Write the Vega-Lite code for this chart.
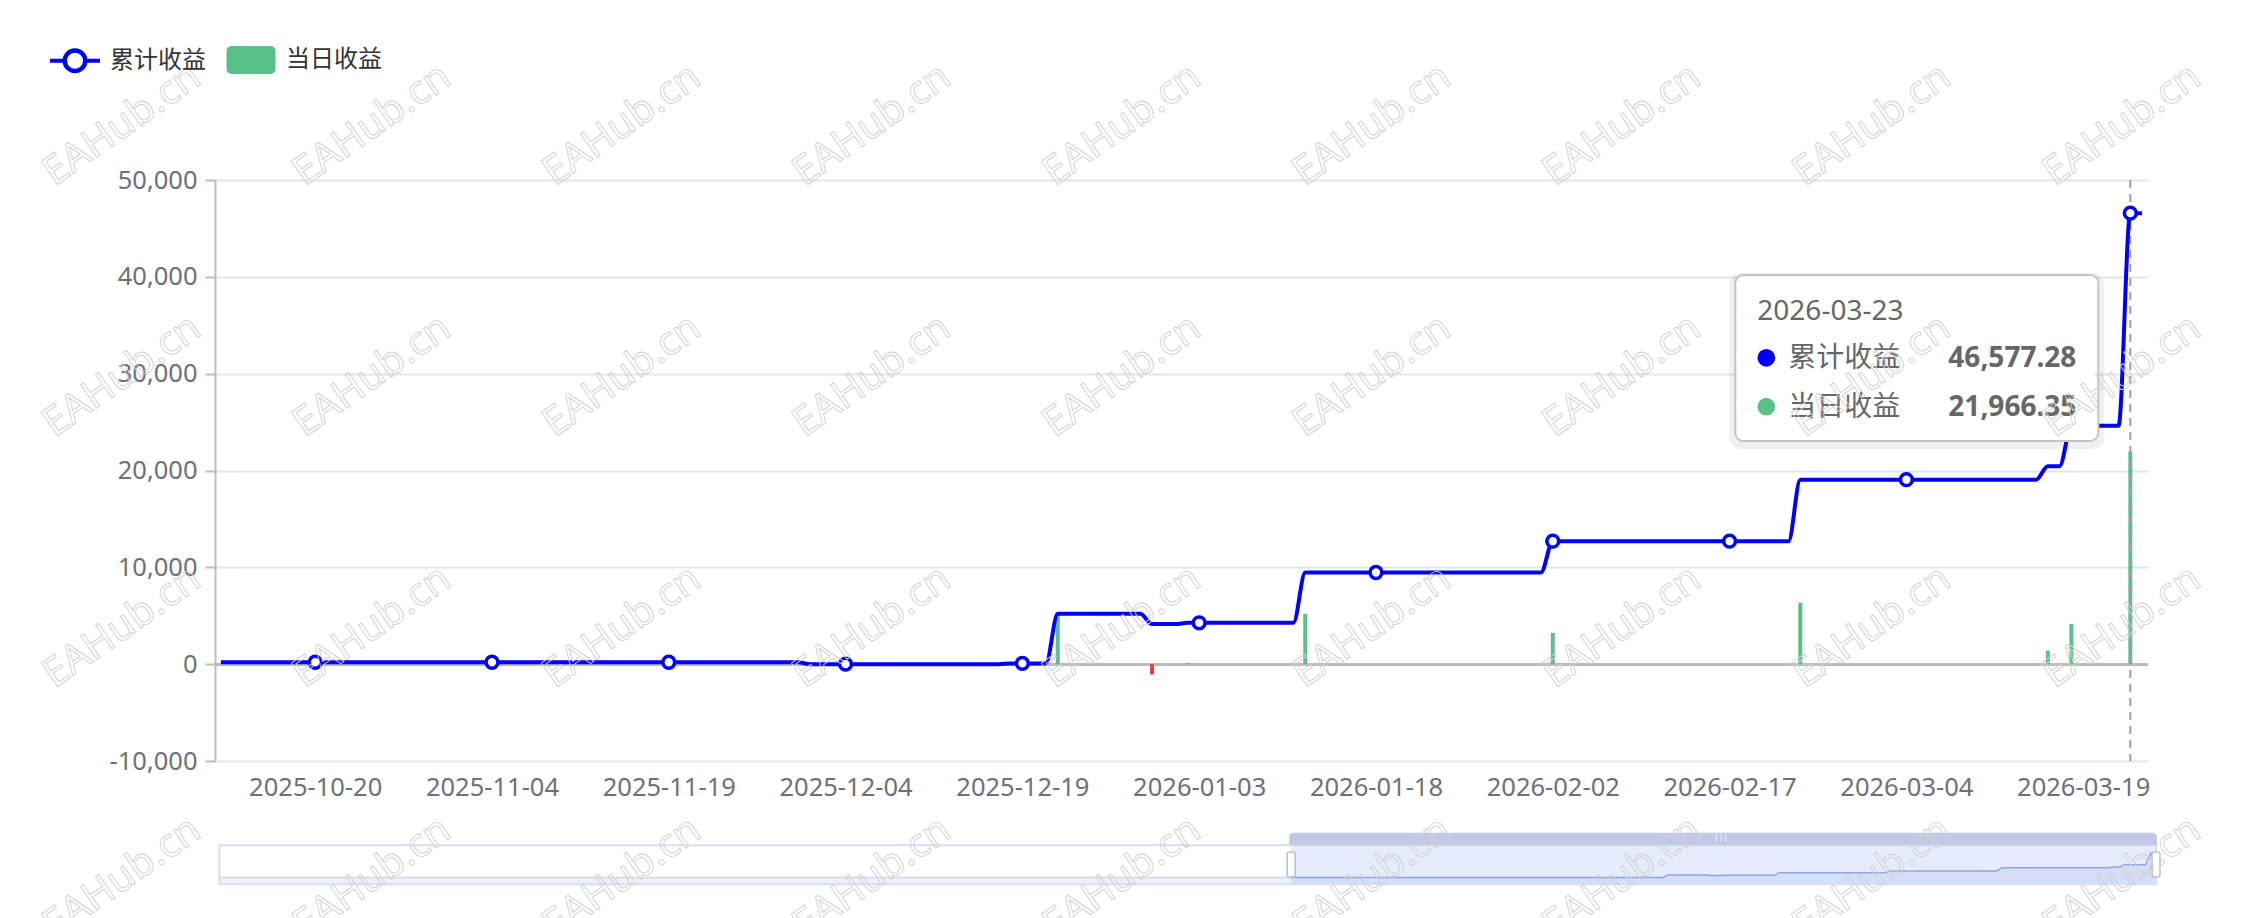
{
  "$schema": "https://vega.github.io/schema/vega-lite/v6.json",
  "width": 1933,
  "height": 581,
  "autosize": {"type": "none"},
  "padding": {"left": 215, "top": 180, "right": 93, "bottom": 157},
  "background": "#ffffff",
  "config": {
    "view": {"stroke": null},
    "font": "Noto Sans, Noto Sans CJK SC, sans-serif",
    "axis": {"labelFont": "Noto Sans, Noto Sans CJK SC, sans-serif", "labelFontSize": 25.5, "labelColor": "#6E7079"}
  },
  "datasets": {
    "daily": [
      {"date":"2025-10-12","cum":200,"daily":0},{"date":"2025-10-13","cum":200,"daily":0},{"date":"2025-10-14","cum":200,"daily":0},{"date":"2025-10-15","cum":200,"daily":0},{"date":"2025-10-16","cum":200,"daily":0},{"date":"2025-10-17","cum":200,"daily":0},{"date":"2025-10-18","cum":200,"daily":0},{"date":"2025-10-19","cum":200,"daily":0},{"date":"2025-10-20","cum":200,"daily":0},{"date":"2025-10-21","cum":200,"daily":0},
      {"date":"2025-10-22","cum":200,"daily":0},{"date":"2025-10-23","cum":200,"daily":0},{"date":"2025-10-24","cum":200,"daily":0},{"date":"2025-10-25","cum":200,"daily":0},{"date":"2025-10-26","cum":200,"daily":0},{"date":"2025-10-27","cum":200,"daily":0},{"date":"2025-10-28","cum":200,"daily":0},{"date":"2025-10-29","cum":200,"daily":0},{"date":"2025-10-30","cum":200,"daily":0},{"date":"2025-10-31","cum":200,"daily":0},
      {"date":"2025-11-01","cum":200,"daily":0},{"date":"2025-11-02","cum":200,"daily":0},{"date":"2025-11-03","cum":200,"daily":0},{"date":"2025-11-04","cum":200,"daily":0},{"date":"2025-11-05","cum":200,"daily":0},{"date":"2025-11-06","cum":200,"daily":0},{"date":"2025-11-07","cum":200,"daily":0},{"date":"2025-11-08","cum":200,"daily":0},{"date":"2025-11-09","cum":200,"daily":0},{"date":"2025-11-10","cum":200,"daily":0},
      {"date":"2025-11-11","cum":200,"daily":0},{"date":"2025-11-12","cum":200,"daily":0},{"date":"2025-11-13","cum":200,"daily":0},{"date":"2025-11-14","cum":200,"daily":0},{"date":"2025-11-15","cum":200,"daily":0},{"date":"2025-11-16","cum":200,"daily":0},{"date":"2025-11-17","cum":200,"daily":0},{"date":"2025-11-18","cum":200,"daily":0},{"date":"2025-11-19","cum":200,"daily":0},{"date":"2025-11-20","cum":200,"daily":0},
      {"date":"2025-11-21","cum":200,"daily":0},{"date":"2025-11-22","cum":200,"daily":0},{"date":"2025-11-23","cum":200,"daily":0},{"date":"2025-11-24","cum":200,"daily":0},{"date":"2025-11-25","cum":200,"daily":0},{"date":"2025-11-26","cum":200,"daily":0},{"date":"2025-11-27","cum":200,"daily":0},{"date":"2025-11-28","cum":200,"daily":0},{"date":"2025-11-29","cum":200,"daily":0},{"date":"2025-11-30","cum":200,"daily":0},
      {"date":"2025-12-01","cum":0,"daily":-200},{"date":"2025-12-02","cum":0,"daily":0},{"date":"2025-12-03","cum":0,"daily":0},{"date":"2025-12-04","cum":0,"daily":0},{"date":"2025-12-05","cum":0,"daily":0},{"date":"2025-12-06","cum":0,"daily":0},{"date":"2025-12-07","cum":0,"daily":0},{"date":"2025-12-08","cum":0,"daily":0},{"date":"2025-12-09","cum":0,"daily":0},{"date":"2025-12-10","cum":0,"daily":0},
      {"date":"2025-12-11","cum":0,"daily":0},{"date":"2025-12-12","cum":0,"daily":0},{"date":"2025-12-13","cum":0,"daily":0},{"date":"2025-12-14","cum":0,"daily":0},{"date":"2025-12-15","cum":0,"daily":0},{"date":"2025-12-16","cum":0,"daily":0},{"date":"2025-12-17","cum":0,"daily":0},{"date":"2025-12-18","cum":80,"daily":80},{"date":"2025-12-19","cum":80,"daily":0},{"date":"2025-12-20","cum":80,"daily":0},
      {"date":"2025-12-21","cum":80,"daily":0},{"date":"2025-12-22","cum":5200,"daily":5120},{"date":"2025-12-23","cum":5200,"daily":0},{"date":"2025-12-24","cum":5200,"daily":0},{"date":"2025-12-25","cum":5200,"daily":0},{"date":"2025-12-26","cum":5200,"daily":0},{"date":"2025-12-27","cum":5200,"daily":0},{"date":"2025-12-28","cum":5200,"daily":0},{"date":"2025-12-29","cum":5200,"daily":0},{"date":"2025-12-30","cum":4140,"daily":-1060},
      {"date":"2025-12-31","cum":4140,"daily":0},{"date":"2026-01-01","cum":4140,"daily":0},{"date":"2026-01-02","cum":4270,"daily":130},{"date":"2026-01-03","cum":4270,"daily":0},{"date":"2026-01-04","cum":4270,"daily":0},{"date":"2026-01-05","cum":4270,"daily":0},{"date":"2026-01-06","cum":4270,"daily":0},{"date":"2026-01-07","cum":4270,"daily":0},{"date":"2026-01-08","cum":4270,"daily":0},{"date":"2026-01-09","cum":4270,"daily":0},
      {"date":"2026-01-10","cum":4270,"daily":0},{"date":"2026-01-11","cum":4270,"daily":0},{"date":"2026-01-12","cum":9470,"daily":5200},{"date":"2026-01-13","cum":9470,"daily":0},{"date":"2026-01-14","cum":9470,"daily":0},{"date":"2026-01-15","cum":9470,"daily":0},{"date":"2026-01-16","cum":9470,"daily":0},{"date":"2026-01-17","cum":9470,"daily":0},{"date":"2026-01-18","cum":9470,"daily":0},{"date":"2026-01-19","cum":9470,"daily":0},
      {"date":"2026-01-20","cum":9470,"daily":0},{"date":"2026-01-21","cum":9470,"daily":0},{"date":"2026-01-22","cum":9470,"daily":0},{"date":"2026-01-23","cum":9470,"daily":0},{"date":"2026-01-24","cum":9470,"daily":0},{"date":"2026-01-25","cum":9470,"daily":0},{"date":"2026-01-26","cum":9470,"daily":0},{"date":"2026-01-27","cum":9470,"daily":0},{"date":"2026-01-28","cum":9470,"daily":0},{"date":"2026-01-29","cum":9470,"daily":0},
      {"date":"2026-01-30","cum":9470,"daily":0},{"date":"2026-01-31","cum":9470,"daily":0},{"date":"2026-02-01","cum":9470,"daily":0},{"date":"2026-02-02","cum":12700,"daily":3230},{"date":"2026-02-03","cum":12700,"daily":0},{"date":"2026-02-04","cum":12700,"daily":0},{"date":"2026-02-05","cum":12700,"daily":0},{"date":"2026-02-06","cum":12700,"daily":0},{"date":"2026-02-07","cum":12700,"daily":0},{"date":"2026-02-08","cum":12700,"daily":0},
      {"date":"2026-02-09","cum":12700,"daily":0},{"date":"2026-02-10","cum":12700,"daily":0},{"date":"2026-02-11","cum":12700,"daily":0},{"date":"2026-02-12","cum":12700,"daily":0},{"date":"2026-02-13","cum":12700,"daily":0},{"date":"2026-02-14","cum":12700,"daily":0},{"date":"2026-02-15","cum":12700,"daily":0},{"date":"2026-02-16","cum":12700,"daily":0},{"date":"2026-02-17","cum":12700,"daily":0},{"date":"2026-02-18","cum":12700,"daily":0},
      {"date":"2026-02-19","cum":12700,"daily":0},{"date":"2026-02-20","cum":12700,"daily":0},{"date":"2026-02-21","cum":12700,"daily":0},{"date":"2026-02-22","cum":12700,"daily":0},{"date":"2026-02-23","cum":19050,"daily":6350},{"date":"2026-02-24","cum":19050,"daily":0},{"date":"2026-02-25","cum":19050,"daily":0},{"date":"2026-02-26","cum":19050,"daily":0},{"date":"2026-02-27","cum":19050,"daily":0},{"date":"2026-02-28","cum":19050,"daily":0},
      {"date":"2026-03-01","cum":19050,"daily":0},{"date":"2026-03-02","cum":19050,"daily":0},{"date":"2026-03-03","cum":19050,"daily":0},{"date":"2026-03-04","cum":19050,"daily":0},{"date":"2026-03-05","cum":19050,"daily":0},{"date":"2026-03-06","cum":19050,"daily":0},{"date":"2026-03-07","cum":19050,"daily":0},{"date":"2026-03-08","cum":19050,"daily":0},{"date":"2026-03-09","cum":19050,"daily":0},{"date":"2026-03-10","cum":19050,"daily":0},
      {"date":"2026-03-11","cum":19050,"daily":0},{"date":"2026-03-12","cum":19050,"daily":0},{"date":"2026-03-13","cum":19050,"daily":0},{"date":"2026-03-14","cum":19050,"daily":0},{"date":"2026-03-15","cum":19050,"daily":0},{"date":"2026-03-16","cum":20450,"daily":1400},{"date":"2026-03-17","cum":20450,"daily":0},{"date":"2026-03-18","cum":24610.93,"daily":4160.93},{"date":"2026-03-19","cum":24610.93,"daily":0},{"date":"2026-03-20","cum":24610.93,"daily":0},
      {"date":"2026-03-21","cum":24610.93,"daily":0},{"date":"2026-03-22","cum":24610.93,"daily":0},{"date":"2026-03-23","cum":46577.28,"daily":21966.35},{"date":"2026-03-24","cum":46577.28,"daily":0}
    ],
    "early": [
      {"date":"2025-03-24","cum":200},{"date":"2025-10-12","cum":200}
    ],
    "wm": [
      {"col":0,"row":0},{"col":1,"row":0},{"col":2,"row":0},{"col":3,"row":0},{"col":4,"row":0},{"col":5,"row":0},{"col":6,"row":0},{"col":7,"row":0},{"col":8,"row":0},
      {"col":0,"row":1},{"col":1,"row":1},{"col":2,"row":1},{"col":3,"row":1},{"col":4,"row":1},{"col":5,"row":1},{"col":6,"row":1},{"col":7,"row":1},{"col":8,"row":1},
      {"col":0,"row":2},{"col":1,"row":2},{"col":2,"row":2},{"col":3,"row":2},{"col":4,"row":2},{"col":5,"row":2},{"col":6,"row":2},{"col":7,"row":2},{"col":8,"row":2},
      {"col":0,"row":3},{"col":1,"row":3},{"col":2,"row":3},{"col":3,"row":3},{"col":4,"row":3},{"col":5,"row":3},{"col":6,"row":3},{"col":7,"row":3},{"col":8,"row":3}
    ]
  },
  "layer": [
    {
      "data": {"name": "daily"},
      "layer": [
        {
          "mark": {"type": "rule", "color": "#BDBDBD", "strokeWidth": 2},
          "encoding": {
            "y": {"datum": 0, "type": "quantitative",
              "scale": {"domain": [-10000, 50000], "nice": false, "zero": false, "padding": 0},
              "axis": {"values": [-10000, 0, 10000, 20000, 30000, 40000, 50000], "labelExpr": "replace(format(datum.value, ','), '\u2212', '-')", "title": null, "domain": true, "domainColor": "#BDBDBD", "domainWidth": 2, "ticks": true, "tickColor": "#BDBDBD", "tickWidth": 2, "tickSize": 10, "labelPadding": 8, "grid": true, "gridColor": "#E0E6F1", "gridWidth": 2}
            }
          }
        },
        {
          "transform": [{"filter": "datum.daily > 0"}],
          "mark": {"type": "bar", "size": 4},
          "encoding": {
            "x": {"field": "date", "type": "temporal",
              "scale": {"type": "utc", "nice": false, "padding": 0, "domain": [{"year": 2025, "month": 10, "date": 11, "hours": 12, "utc": true}, {"year": 2026, "month": 3, "date": 24, "hours": 12, "utc": true}]},
              "axis": {"title": null, "values": [
                {"year": 2025, "month": 10, "date": 20, "utc": true}, {"year": 2025, "month": 11, "date": 4, "utc": true}, {"year": 2025, "month": 11, "date": 19, "utc": true}, {"year": 2025, "month": 12, "date": 4, "utc": true}, {"year": 2025, "month": 12, "date": 19, "utc": true}, {"year": 2026, "month": 1, "date": 3, "utc": true}, {"year": 2026, "month": 1, "date": 18, "utc": true}, {"year": 2026, "month": 2, "date": 2, "utc": true}, {"year": 2026, "month": 2, "date": 17, "utc": true}, {"year": 2026, "month": 3, "date": 4, "utc": true}, {"year": 2026, "month": 3, "date": 19, "utc": true}],
                "labelExpr": "utcFormat(datum.value, '%Y-%m-%d')", "domain": false, "ticks": false, "tickSize": 0, "grid": false, "labelPadding": 14, "labelFlush": false, "labelOverlap": false}
            },
            "y": {"field": "daily", "type": "quantitative"},
            "color": {"datum": "当日收益"}
          }
        },
        {
          "transform": [{"filter": "datum.daily < 0"}],
          "mark": {"type": "bar", "size": 4, "color": "#F03C3C"},
          "encoding": {
            "x": {"field": "date", "type": "temporal"},
            "y": {"field": "daily", "type": "quantitative"}
          }
        },
        {
          "transform": [{"filter": "utcFormat(datum.date, '%Y-%m-%d') === '2026-03-23'"}],
          "mark": {"type": "rule", "color": "#A0A0A0", "strokeWidth": 2, "strokeDash": [8, 6]},
          "encoding": {
            "x": {"field": "date", "type": "temporal"}
          }
        },
        {
          "mark": {"type": "line", "interpolate": "monotone", "strokeWidth": 4},
          "encoding": {
            "x": {"field": "date", "type": "temporal"},
            "y": {"field": "cum", "type": "quantitative"},
            "color": {"datum": "累计收益",
              "scale": {"domain": ["累计收益", "当日收益"], "range": ["#0000FF", "#5AC08A"]},
              "legend": {
                "title": null, "orient": "none", "legendX": -167, "legendY": -147, "direction": "horizontal",
                "symbolSize": 2500, "symbolStrokeWidth": 4, "labelFontSize": 24, "labelFont": "Noto Sans CJK SC, Noto Sans, sans-serif", "labelColor": "#333333",
                "labelOffset": 8, "columnPadding": 14, "padding": 0,
                "encode": {"symbols": {"update": {
                  "shape": {"signal": "datum.value === '累计收益' ? 'M-1,0H-0.42M0.42,0H1M0.42,0A0.42,0.42,0,1,1,-0.42,0A0.42,0.42,0,1,1,0.42,0ZM0.40,0A0.40,0.40,0,1,0,-0.40,0A0.40,0.40,0,1,0,0.40,0Z' : 'M-0.78,-0.48H0.78A0.12,0.12,0,0,1,0.9,-0.36V0.36A0.12,0.12,0,0,1,0.78,0.48H-0.78A0.12,0.12,0,0,1,-0.9,0.36V-0.36A0.12,0.12,0,0,1,-0.78,-0.48Z'"},
                  "stroke": {"signal": "datum.value === '累计收益' ? '#0000FF' : '#5AC08A'"},
                  "opacity": {"value": 1},
                  "fillOpacity": {"value": 1},
                  "strokeOpacity": {"value": 1}
                }}}
              }
            }
          }
        },
        {
          "transform": [{"filter": "indexof(['2025-10-20','2025-11-04','2025-11-19','2025-12-04','2025-12-19','2026-01-03','2026-01-18','2026-02-02','2026-02-17','2026-03-04','2026-03-19','2026-03-23'], utcFormat(datum.date, '%Y-%m-%d')) >= 0"}],
          "mark": {"type": "point", "shape": "circle", "filled": true, "fill": "#ffffff", "stroke": "#0000FF", "strokeWidth": 3.5, "size": 140, "opacity": 1},
          "encoding": {
            "x": {"field": "date", "type": "temporal"},
            "y": {"field": "cum", "type": "quantitative"}
          }
        },
        {
          "transform": [{"filter": "utcFormat(datum.date, '%Y-%m-%d') === '2026-03-23'"}, {"calculate": "utcFormat(datum.date, '%Y-%m-%d')", "as": "label"}],
          "layer": [
            {
              "mark": {"type": "rect", "fill": "#000000", "fillOpacity": 0.06, "cornerRadius": 12, "xOffset": -401, "x2Offset": -26, "yOffset": -2, "y2Offset": 8},
              "encoding": {"x": {"field": "date", "type": "temporal"}, "x2": {"field": "date"}, "y": {"datum": 40194}, "y2": {"datum": 23051}}
            },
            {
              "mark": {"type": "rect", "fill": "#ffffff", "stroke": "#C4C4C8", "strokeWidth": 2, "cornerRadius": 8, "xOffset": -395, "x2Offset": -32},
              "encoding": {"x": {"field": "date", "type": "temporal"}, "x2": {"field": "date"}, "y": {"datum": 40194}, "y2": {"datum": 23051}}
            },
            {
              "mark": {"type": "text", "align": "left", "baseline": "alphabetic", "dx": -373, "fontSize": 28, "font": "Noto Sans, sans-serif", "color": "#666666"},
              "encoding": {"x": {"field": "date", "type": "temporal"}, "y": {"datum": 35547}, "text": {"field": "label"}}
            },
            {
              "mark": {"type": "point", "shape": "circle", "filled": true, "color": "#0000FF", "size": 314, "opacity": 1, "xOffset": -364},
              "encoding": {"x": {"field": "date", "type": "temporal"}, "y": {"datum": 31640}}
            },
            {
              "mark": {"type": "point", "shape": "circle", "filled": true, "color": "#5AC08A", "size": 314, "opacity": 1, "xOffset": -364},
              "encoding": {"x": {"field": "date", "type": "temporal"}, "y": {"datum": 26593}}
            },
            {
              "mark": {"type": "text", "align": "left", "baseline": "alphabetic", "dx": -342, "fontSize": 28, "font": "Noto Sans CJK SC, sans-serif", "color": "#666666"},
              "encoding": {"x": {"field": "date", "type": "temporal"}, "y": {"datum": 30662}, "text": {"value": "累计收益"}}
            },
            {
              "mark": {"type": "text", "align": "left", "baseline": "alphabetic", "dx": -342, "fontSize": 28, "font": "Noto Sans CJK SC, sans-serif", "color": "#666666"},
              "encoding": {"x": {"field": "date", "type": "temporal"}, "y": {"datum": 25633}, "text": {"value": "当日收益"}}
            },
            {
              "mark": {"type": "text", "align": "right", "baseline": "alphabetic", "dx": -54, "fontSize": 28, "fontWeight": "bold", "font": "Noto Sans, sans-serif", "color": "#666666"},
              "encoding": {"x": {"field": "date", "type": "temporal"}, "y": {"datum": 30662}, "text": {"field": "cum", "type": "quantitative", "format": ",.2f"}}
            },
            {
              "mark": {"type": "text", "align": "right", "baseline": "alphabetic", "dx": -54, "fontSize": 28, "fontWeight": "bold", "font": "Noto Sans, sans-serif", "color": "#666666"},
              "encoding": {"x": {"field": "date", "type": "temporal"}, "y": {"datum": 25633}, "text": {"field": "daily", "type": "quantitative", "format": ",.2f"}}
            }
          ]
        }
      ]
    },
    {
      "layer": [
        {
          "data": {"name": "early"},
          "mark": {"type": "area", "color": "#EEF0F8", "opacity": 1},
          "encoding": {
            "x": {"field": "date", "type": "temporal", "axis": null,
              "scale": {"type": "utc", "nice": false, "padding": 0, "domain": [{"year": 2025, "month": 3, "date": 24, "utc": true}, {"year": 2026, "month": 3, "date": 24, "utc": true}], "range": [4.5, 1941]}},
            "y": {"field": "cum", "type": "quantitative", "axis": null,
              "scale": {"domain": [0, 46577.28], "range": [697.6, 673.3], "nice": false, "zero": false, "padding": 0}},
            "y2": {"datum": -12843}
          }
        },
        {
          "data": {"name": "early"},
          "mark": {"type": "line", "color": "#D2D8EA", "strokeWidth": 1.5},
          "encoding": {
            "x": {"field": "date", "type": "temporal"},
            "y": {"field": "cum", "type": "quantitative"}
          }
        },
        {
          "data": {"values": [{}]},
          "mark": {"type": "rect", "color": "#E6ECFC", "opacity": 1},
          "encoding": {
            "x": {"datum": {"year": 2025, "month": 10, "date": 12, "utc": true}, "type": "temporal"},
            "x2": {"datum": {"year": 2026, "month": 3, "date": 24, "utc": true}},
            "y": {"datum": -12843, "type": "quantitative"},
            "y2": {"datum": 61913}
          }
        },
        {
          "data": {"name": "daily"},
          "mark": {"type": "area", "color": "#D5DEF6", "opacity": 1},
          "encoding": {
            "x": {"field": "date", "type": "temporal"},
            "y": {"field": "cum", "type": "quantitative"},
            "y2": {"datum": -12843}
          }
        },
        {
          "data": {"name": "daily"},
          "mark": {"type": "line", "color": "#8EA5E2", "strokeWidth": 1.5},
          "encoding": {
            "x": {"field": "date", "type": "temporal"},
            "y": {"field": "cum", "type": "quantitative"}
          }
        },
        {
          "data": {"values": [{}]},
          "mark": {"type": "rect", "fill": null, "filled": false, "stroke": "#D8DEF0", "strokeWidth": 2},
          "encoding": {
            "x": {"datum": {"year": 2025, "month": 3, "date": 24, "utc": true}, "type": "temporal"},
            "x2": {"datum": {"year": 2026, "month": 3, "date": 24, "utc": true}},
            "y": {"datum": -12843, "type": "quantitative"},
            "y2": {"datum": 61913}
          }
        },
        {
          "data": {"values": [{}]},
          "mark": {"type": "rect", "color": "#C1C8E5", "opacity": 1, "cornerRadiusTopLeft": 4, "cornerRadiusTopRight": 4, "xOffset": -2, "x2Offset": 1},
          "encoding": {
            "x": {"datum": {"year": 2025, "month": 10, "date": 12, "utc": true}, "type": "temporal"},
            "x2": {"datum": {"year": 2026, "month": 3, "date": 24, "utc": true}},
            "y": {"datum": 61913, "type": "quantitative"},
            "y2": {"datum": 86065}
          }
        },
        {
          "data": {"values": [{}]},
          "mark": {"type": "text", "text": "|||", "fontSize": 8, "color": "#ffffff", "align": "center", "baseline": "middle"},
          "encoding": {
            "x": {"datum": {"year": 2026, "month": 1, "date": 1, "utc": true}, "type": "temporal"},
            "y": {"datum": 74947, "type": "quantitative"}
          }
        },
        {
          "data": {"values": [{"date": "2025-10-12"}, {"date": "2026-03-24"}]},
          "mark": {"type": "rect", "fill": "#ffffff", "stroke": "#B5C0DD", "strokeWidth": 1.5, "cornerRadius": 2, "xOffset": -4, "x2Offset": 4},
          "encoding": {
            "x": {"field": "date", "type": "temporal"},
            "x2": {"field": "date"},
            "y": {"datum": 1150, "type": "quantitative"},
            "y2": {"datum": 49070}
          }
        }
      ]
    },
    {
      "data": {"name": "wm"},
      "mark": {"type": "text", "text": "EAHub.cn", "angle": -35, "fontSize": 40, "font": "Noto Sans, sans-serif", "align": "center", "baseline": "middle", "fillOpacity": 0, "stroke": "#D0D0D0", "strokeWidth": 0.9},
      "encoding": {
        "x": {"field": "col", "type": "quantitative", "axis": null, "scale": {"domain": [0, 8], "range": [-93, 1907], "nice": false, "zero": false}},
        "y": {"field": "row", "type": "quantitative", "axis": null, "scale": {"domain": [0, 3], "range": [-55, 698], "nice": false, "zero": false}}
      }
    }
  ],
  "resolve": {"scale": {"x": "independent", "y": "independent", "color": "independent"}, "axis": {"x": "independent", "y": "independent"}}
}
